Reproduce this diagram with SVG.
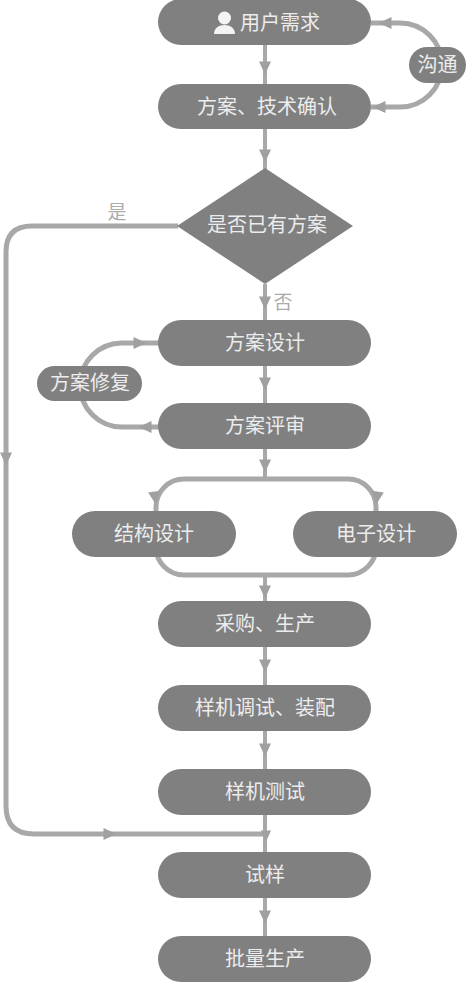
<svg xmlns="http://www.w3.org/2000/svg" width="466" height="982" viewBox="0 0 466 982">
<style>
.n{fill:#808080}
.t{font-family:"Noto Sans CJK SC","Liberation Sans",sans-serif;font-size:20px;fill:#ececec;text-anchor:middle}
.l{font-family:"Noto Sans CJK SC","Liberation Sans",sans-serif;font-size:19px;fill:#ababab;text-anchor:middle}
.c{fill:none;stroke:#a8a8a8;stroke-width:5}
.v{fill:none;stroke:#a8a8a8;stroke-width:4}
.a{fill:#a0a0a0}
</style>
<defs><polygon id="a" class="a" points="-6,-6.500 6,-6.500 0,6.500"/></defs>
<rect width="466" height="982" fill="#fff"/>
<g id="connectors">
<path class="v" d="M265 45V84M265 129V170M265 284V320M265 366V403M265 449V479M265 575V601M265 647V685M265 731V769M265 815V852M265 898V936"/>
<path class="c" d="M371 23H400A42 42 0 0 1 400 107H371"/>
<path class="c" d="M159 343H122A42 42 0 0 0 122 427H159"/>
<rect class="c" x="156" y="479" width="220" height="96" rx="28"/>
<path class="c" d="M178 226H32Q6 226 6 252V806Q6 834 34 834H265"/>
<use href="#a" transform="translate(265 68)"/>
<use href="#a" transform="translate(265 156)"/>
<use href="#a" transform="translate(265 303)"/>
<use href="#a" transform="translate(265 384)"/>
<use href="#a" transform="translate(265 466)"/>
<use href="#a" transform="translate(265 592)"/>
<use href="#a" transform="translate(265 666)"/>
<use href="#a" transform="translate(265 750)"/>
<use href="#a" transform="translate(266 836) scale(.85)"/>
<use href="#a" transform="translate(265 917)"/>
<use href="#a" transform="translate(385 23) rotate(90)"/>
<use href="#a" transform="translate(379 107) rotate(90)"/>
<use href="#a" transform="translate(140 343) rotate(-90)"/>
<use href="#a" transform="translate(145 427) rotate(90)"/>
<use href="#a" transform="translate(155 498) rotate(-8)"/>
<use href="#a" transform="translate(377 498) rotate(8)"/>
<use href="#a" transform="translate(6 459)"/>
<use href="#a" transform="translate(110 834) rotate(-90)"/>
</g>
<g id="label-yes"><text class="l" x="117" y="219">是</text></g>
<g id="label-no"><text class="l" x="283" y="309">否</text></g>
<g id="n1"><rect class="n" x="158" y="-1" width="213" height="46" rx="23"/>
<g fill="#f4f4f4"><circle cx="224.500" cy="18" r="6.500"/><path d="M214 34C214 28 219 25 224.500 25S235 28 235 34Z"/></g>
<text class="t" x="280" y="29.500">用户需求</text></g>
<g id="n2"><rect class="n" x="158" y="84" width="213" height="45" rx="22.500"/><text class="t" x="267" y="113.500">方案、技术确认</text></g>
<g id="n3"><rect class="n" x="409" y="47" width="57" height="36" rx="18"/><text class="t" x="437.500" y="72">沟通</text></g>
<g id="n4"><polygon class="n" points="265,168 353,226 265,284 177,226"/><text class="t" x="267" y="232">是否已有方案</text></g>
<g id="n5"><rect class="n" x="158" y="320" width="213" height="46" rx="23"/><text class="t" x="265" y="350">方案设计</text></g>
<g id="n6"><rect class="n" x="37" y="366" width="105" height="35" rx="17.500"/><text class="t" x="90" y="390">方案修复</text></g>
<g id="n7"><rect class="n" x="158" y="403" width="213" height="46" rx="23"/><text class="t" x="265" y="433">方案评审</text></g>
<g id="n8"><rect class="n" x="72" y="511" width="164" height="46" rx="23"/><text class="t" x="154" y="541">结构设计</text></g>
<g id="n9"><rect class="n" x="293" y="511" width="164" height="46" rx="23"/><text class="t" x="376" y="541">电子设计</text></g>
<g id="n10"><rect class="n" x="158" y="601" width="213" height="46" rx="23"/><text class="t" x="265" y="631">采购、生产</text></g>
<g id="n11"><rect class="n" x="158" y="685" width="213" height="46" rx="23"/><text class="t" x="265" y="715">样机调试、装配</text></g>
<g id="n12"><rect class="n" x="158" y="769" width="213" height="46" rx="23"/><text class="t" x="265" y="799">样机测试</text></g>
<g id="n13"><rect class="n" x="158" y="852" width="213" height="46" rx="23"/><text class="t" x="265" y="882">试样</text></g>
<g id="n14"><rect class="n" x="158" y="936" width="213" height="46" rx="23"/><text class="t" x="265" y="966">批量生产</text></g>
</svg>
